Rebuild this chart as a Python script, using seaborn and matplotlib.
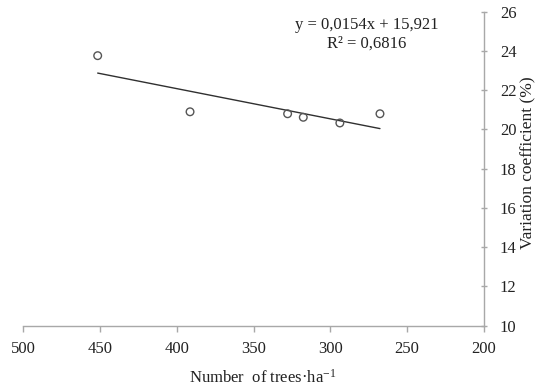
import matplotlib
matplotlib.use("Agg")
import matplotlib.pyplot as plt
import seaborn as sns
import numpy as np
import pandas as pd

# Data
trees_per_ha = [451.4, 391.3, 327.8, 317.6, 293.8, 267.7]
variation_coef = [23.76, 20.90, 20.80, 20.62, 20.33, 20.80]
slope = 0.0154
intercept = 15.921
r2 = 0.6816
x_ticks = [500, 450, 400, 350, 300, 250, 200]
y_ticks = [10, 12, 14, 16, 18, 20, 22, 24, 26]

sns.set_theme(style="white")
plt.rcParams['font.family'] = ['Liberation Serif', 'DejaVu Serif']
plt.rcParams['mathtext.fontset'] = 'custom'
plt.rcParams['mathtext.rm'] = 'Liberation Serif'
plt.rcParams['mathtext.it'] = 'Liberation Serif:italic'

df = pd.DataFrame({"x": trees_per_ha, "y": variation_coef})
xs = np.array([min(trees_per_ha), max(trees_per_ha)])
fit = pd.DataFrame({"x": xs, "y": slope * xs + intercept})

fig = plt.figure(figsize=(5.38, 3.89), dpi=100)
ax = fig.add_axes([23 / 538, 1 - 325.7 / 389, (484 - 23) / 538, (325.7 - 11.7) / 389])

sns.lineplot(data=fit, x="x", y="y", ax=ax, color="#303030", linewidth=1.0)
sns.scatterplot(data=df, x="x", y="y", ax=ax, s=30, marker="o",
                facecolors="none", edgecolor="#555555", linewidth=1.0, zorder=3)

ax.set_xlim(500, 200)
ax.set_ylim(10, 26)
ax.set_xticks(x_ticks)
ax.set_yticks(y_ticks)
ax.yaxis.tick_right()
ax.yaxis.set_label_position("right")
for s in ["top", "left"]:
    ax.spines[s].set_visible(False)
for s in ["bottom", "right"]:
    ax.spines[s].set_visible(True)
    ax.spines[s].set_color("#a8a8a8")
    ax.spines[s].set_linewidth(1.0)
ax.tick_params(axis="x", bottom=True, direction="out", length=4.3, width=1.0,
               color="#a8a8a8", labelsize=12, labelcolor="#222222", pad=6.5)
ax.tick_params(axis="y", right=True, left=False, direction="inout", length=4, width=1.0,
               color="#a8a8a8", labelsize=12, labelcolor="#222222", pad=9.5)

ax.set_xlabel("Number  of trees·ha$^{-1}$", fontsize=12, color="#222222")
ax.xaxis.set_label_coords(0.52, -0.138)
ax.set_ylabel("Variation coefficient (%)", fontsize=12.5, color="#222222")
ax.yaxis.set_label_coords(1.078, 0.52)

ax.text(276.2, 24.86, "y = 0,0154x + 15,921\nR² = 0,6816", ha="center", va="center",
        fontsize=12, color="#222222", linespacing=1.25)

fig.savefig("out.png", dpi=100)
